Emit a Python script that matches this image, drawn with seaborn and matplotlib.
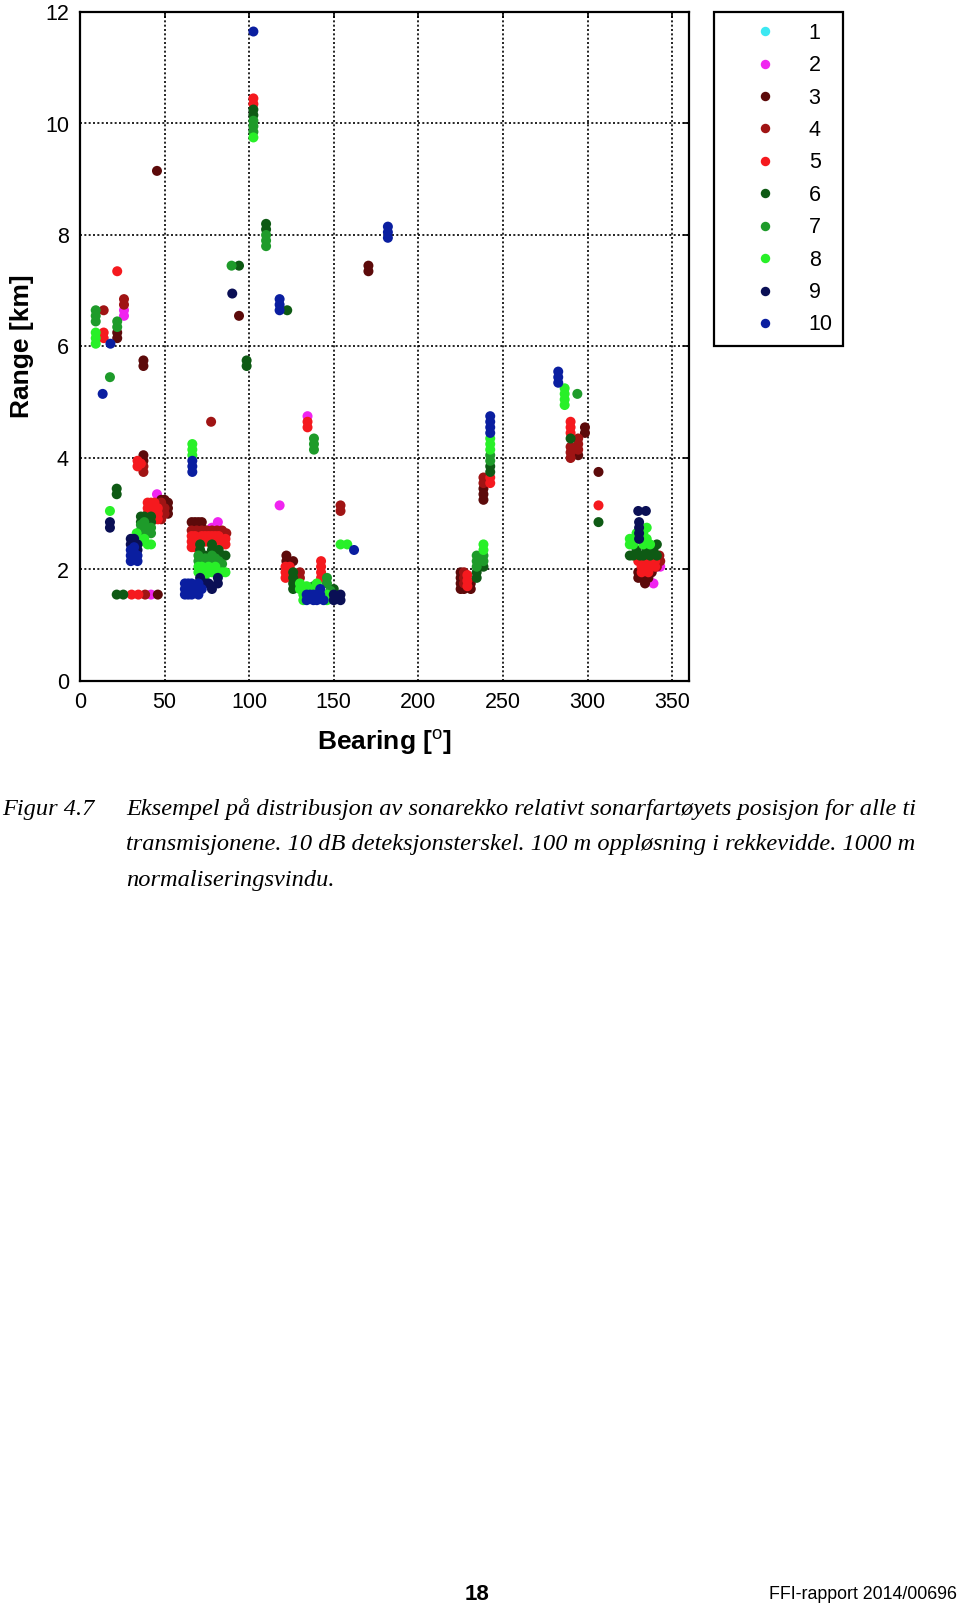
import matplotlib
matplotlib.use("Agg")
import matplotlib.pyplot as plt
from matplotlib.lines import Line2D
import seaborn as sns
import pandas as pd

# ---------------- data (bearing [deg], range [km]) per transmission ----------------
g1 = []
g2 = [(26, 6.65), (26, 6.55), (45.5, 3.35), (42, 1.55), (78, 2.75), (81.5, 2.85),
      (134.5, 4.75), (118, 3.15), (343, 2.05), (339, 1.75)]
g3 = [(22, 6.25), (22, 6.15), (37.5, 5.75), (37.5, 5.65), (94, 6.55), (170.5, 7.45),
      (170.5, 7.35), (45.5, 9.15), (37.5, 4.05), (37.5, 3.95), (46, 1.55),
      (48, 3.25), (50, 3.25), (50, 3.2), (52, 3.2), (52, 3.1), (52, 3.0),
      (66, 2.85), (68, 2.85), (70, 2.85), (72, 2.85), (68, 2.75), (72, 2.75),
      (122, 2.25), (122, 2.15), (126, 2.15),
      (238.5, 3.45), (238.5, 3.35), (238.5, 3.25), (225, 1.95), (225, 1.85), (225, 1.75),
      (225, 1.65), (231, 1.75), (231, 1.65), (227, 1.65),
      (298.5, 4.55), (298.5, 4.45), (294.5, 4.05), (306.5, 3.75),
      (330, 1.95), (332, 1.85), (334, 1.95), (336, 1.85), (334, 1.75), (338, 1.95), (330, 1.85)]
g4 = [(26, 6.85), (26, 6.75), (14, 6.65), (77.5, 4.65), (37.5, 3.85), (37.5, 3.75),
      (48, 3.2), (48, 3.1), (48, 3.0), (48, 2.9), (50, 3.1), (50, 3.0), (38.5, 1.55),
      (66, 2.7), (69, 2.7), (72, 2.7), (75, 2.7), (78, 2.7), (81, 2.7), (84, 2.7), (86.5, 2.65),
      (130, 1.95), (130, 1.85), (154, 3.15), (154, 3.05),
      (238.5, 3.65), (238.5, 3.55), (227, 1.95), (227, 1.85), (227, 1.75),
      (290, 4.2), (290, 4.1), (290, 4.0), (294.5, 4.35), (294.5, 4.25), (294.5, 4.15),
      (342.5, 2.25), (343, 2.15), (341, 2.05)]
g5 = [(22, 7.35), (14, 6.25), (14, 6.15), (102.5, 10.45), (102.5, 10.35),
      (134.5, 4.65), (134.5, 4.55), (34, 3.95), (34, 3.85), (36, 3.9),
      (30.5, 1.55), (34.5, 1.55),
      (40, 3.2), (40, 3.1), (40, 3.0), (42, 3.2), (42, 3.1), (42, 3.0), (42, 2.9),
      (44, 3.2), (44, 3.1), (44, 3.0), (44, 2.9), (46, 3.1), (46, 3.0), (46, 2.9),
      (66, 2.6), (66, 2.5), (66, 2.4), (68, 2.6), (68, 2.5), (68, 2.4), (72, 2.6), (72, 2.5),
      (74, 2.6), (74, 2.5), (76, 2.6), (76, 2.5), (78, 2.6), (78, 2.5), (80, 2.6), (80, 2.5),
      (80, 2.4), (82, 2.6), (82, 2.5), (84, 2.5), (86, 2.55), (86, 2.45),
      (121.5, 2.05), (121.5, 1.95), (121.5, 1.85), (124, 2.05), (124, 1.95),
      (142.5, 2.15), (142.5, 2.05), (142.5, 1.95), (142.5, 1.85),
      (229, 1.9), (229, 1.8), (229, 1.7), (242.5, 3.65), (242.5, 3.55),
      (290, 4.65), (290, 4.55), (290, 4.45), (306.5, 3.15),
      (330, 2.15), (332, 2.05), (334, 2.15), (336, 2.05), (338, 2.15), (340, 2.05),
      (332, 1.95), (336, 1.95), (334, 2.25), (338, 2.25), (340, 2.15)]
g6 = [(94, 7.45), (98.5, 5.75), (98.5, 5.65), (102.5, 10.25), (102.5, 10.15),
      (110, 8.2), (110, 8.1), (122.5, 6.65), (21.7, 3.45), (21.7, 3.35),
      (21.7, 1.55), (25.6, 1.55),
      (36, 2.95), (36, 2.85), (38, 2.95), (42, 2.95), (42, 2.85),
      (71, 2.45), (71, 2.35), (78, 2.45), (78, 2.35), (74, 2.25), (80, 2.3), (82, 2.35),
      (84, 2.25), (86, 2.25),
      (126, 1.95), (126, 1.85), (126, 1.75), (126, 1.65), (150, 1.65),
      (234.5, 1.95), (234.5, 1.85), (238.5, 2.05), (242.5, 3.85), (242.5, 3.75),
      (290, 4.35), (306.5, 2.85),
      (325, 2.25), (327, 2.25), (329, 2.35), (331, 2.25), (333, 2.25), (335, 2.35),
      (337, 2.25), (339, 2.35), (341, 2.45), (341, 2.25)]
g7 = [(9.3, 6.65), (9.3, 6.55), (9.3, 6.45), (22, 6.45), (22, 6.35), (17.7, 5.45),
      (89.6, 7.45), (102.5, 10.05), (102.5, 9.95), (102.5, 9.85),
      (110, 8.0), (110, 7.9), (110, 7.8), (138.3, 4.35), (138.3, 4.25), (138.3, 4.15),
      (36, 2.8), (36, 2.7), (38, 2.85), (38, 2.75), (38, 2.65), (42, 2.75), (42, 2.65),
      (70, 2.25), (70, 2.15), (74, 2.2), (76, 2.15), (78, 2.25), (80, 2.2), (82, 2.15), (84, 2.1),
      (138, 1.7), (146, 1.85), (146, 1.75), (148, 1.62),
      (234.5, 2.25), (234.5, 2.15), (234.5, 2.05), (238.5, 2.25), (238.5, 2.15),
      (242.5, 4.05), (242.5, 3.95), (294, 5.15)]
g8 = [(9.3, 6.25), (9.3, 6.15), (9.3, 6.05), (102.5, 9.75), (17.7, 3.05),
      (66.4, 4.25), (66.4, 4.15), (66.4, 4.05), (154, 2.45), (158, 2.45),
      (33.5, 2.65), (34, 2.55), (36, 2.5), (38, 2.55), (40, 2.45), (42, 2.45),
      (70, 2.05), (70, 1.95), (72, 2.05), (72, 1.95), (74, 1.95), (74, 1.9), (76, 2.05),
      (76, 1.95), (78, 1.95), (80, 2.05), (80, 1.95), (82, 1.95), (84, 1.95), (86, 1.95), (72, 1.85),
      (130, 1.75), (130, 1.65), (132, 1.55), (132, 1.45), (134, 1.7), (136, 1.65),
      (140, 1.75), (140, 1.65), (146, 1.55), (146, 1.45),
      (238.5, 2.45), (238.5, 2.35), (242.5, 4.35), (242.5, 4.25), (242.5, 4.15),
      (286.5, 5.25), (286.5, 5.15), (286.5, 5.05), (286.5, 4.95),
      (325, 2.55), (325, 2.45), (327, 2.55), (329, 2.65), (331, 2.55), (333, 2.65),
      (335, 2.75), (335, 2.55), (337, 2.45), (327, 2.45), (333, 2.45)]
g9 = [(90, 6.95), (17.7, 2.85), (17.7, 2.75),
      (30, 2.55), (30, 2.45), (32, 2.55), (32, 2.45), (34, 2.45), (34, 2.35),
      (71, 1.85), (81.5, 1.85), (81.5, 1.75), (78, 1.65), (76, 1.75), (74, 1.75),
      (150, 1.55), (150, 1.45), (154, 1.55), (154, 1.45),
      (330, 3.05), (334.5, 3.05), (330.5, 2.85), (330.5, 2.75), (330.5, 2.65), (330.5, 2.55)]
g10 = [(102.5, 11.65), (118, 6.85), (118, 6.75), (118, 6.65), (182, 8.15), (182, 8.05),
       (182, 7.95), (18, 6.05), (13.4, 5.15), (66.4, 3.95), (66.4, 3.85), (66.4, 3.75),
       (162, 2.35),
       (30, 2.35), (30, 2.25), (30, 2.15), (32, 2.4), (32, 2.3), (32, 2.2), (34, 2.25), (34, 2.15),
       (62, 1.75), (62, 1.65), (62, 1.55), (64, 1.75), (64, 1.65), (64, 1.55), (66, 1.75),
       (66, 1.65), (66, 1.55), (68, 1.7), (68, 1.6), (70, 1.75), (70, 1.65), (70, 1.55), (72, 1.65),
       (134, 1.55), (134, 1.45), (136, 1.55), (138, 1.55), (138, 1.45), (140, 1.55),
       (140, 1.45), (142, 1.65), (142, 1.55), (144, 1.45),
       (242.5, 4.75), (242.5, 4.65), (242.5, 4.55), (242.5, 4.45),
       (282.7, 5.55), (282.7, 5.45), (282.7, 5.35)]

groups = [g1, g2, g3, g4, g5, g6, g7, g8, g9, g10]
labels = [str(i) for i in range(1, 11)]
colors = ['#3CE8F2', '#F024F0', '#5C0A0A', '#A01414', '#F5191E',
          '#0E5A14', '#1E9B2A', '#28F028', '#0A0F55', '#0A1EA0']
x_ticks = [0, 50, 100, 150, 200, 250, 300, 350]
y_ticks = [0, 2, 4, 6, 8, 10, 12]

caption_lines = [
    "Eksempel på distribusjon av sonarekko relativt sonarfartøyets posisjon for alle ti",
    "transmisjonene. 10 dB deteksjonsterskel. 100 m oppløsning i rekkevidde. 1000 m",
    "normaliseringsvindu.",
]

rows = []
for lab, g in zip(labels, groups):
    for b, r in g:
        rows.append({"Bearing": b, "Range": r, "Transmission": lab})
df = pd.DataFrame(rows, columns=["Bearing", "Range", "Transmission"])

# ---------------- style ----------------
sns.set_style("white")
plt.rcParams['font.family'] = ['Liberation Sans', 'DejaVu Sans']
plt.rcParams['mathtext.fontset'] = 'custom'
plt.rcParams['mathtext.rm'] = 'Liberation Sans'
plt.rcParams['mathtext.bf'] = 'Liberation Sans:bold'
plt.rcParams['text.color'] = 'black'
plt.rcParams['axes.labelcolor'] = 'black'
plt.rcParams['xtick.color'] = 'black'
plt.rcParams['ytick.color'] = 'black'

W, H = 960, 1610
fig = plt.figure(figsize=(W / 100, H / 100), dpi=100)
fig.patch.set_facecolor('white')

L, R, T, B = 80, 689, 12, 681
ax = fig.add_axes([L / W, 1 - B / H, (R - L) / W, (B - T) / H])

palette = dict(zip(labels, colors))
sns.scatterplot(data=df, x="Bearing", y="Range", hue="Transmission",
                hue_order=labels, palette=palette, s=52, linewidth=0,
                alpha=1, legend=False, ax=ax, zorder=3)

ax.set_xlim(0, 360)
ax.set_ylim(0, 12)
ax.set_xticks(x_ticks)
ax.set_yticks(y_ticks)
ax.grid(True, color='black', linestyle=(0, (1.2, 1.4)), linewidth=1.2, zorder=1)
ax.set_axisbelow(True)
for sp in ax.spines.values():
    sp.set_visible(True)
    sp.set_color('black')
    sp.set_linewidth(1.6)
ax.tick_params(direction='in', length=4, width=1.2, top=True, right=True,
               labelsize=15.5, pad=8, colors='black', labelcolor='black')
ax.set_xlabel(r'Bearing [$^{\mathrm{o}}$]', fontsize=19, fontweight='bold',
              labelpad=10, color='black')
ax.set_ylabel('Range [km]', fontsize=19, fontweight='bold', labelpad=8, color='black')

# legend
handles = [Line2D([0], [0], marker='o', linestyle='none', markersize=6.8,
                  markerfacecolor=c, markeredgewidth=0) for c in colors]
leg = fig.legend(handles, labels, loc='upper left',
                 bbox_to_anchor=(714 / W, 1 - 12 / H), borderaxespad=0,
                 fontsize=15.5, frameon=True, fancybox=False, shadow=False,
                 framealpha=1, edgecolor='black', handlelength=3.7,
                 handletextpad=0.2, labelspacing=0.53, borderpad=0.5)
leg.get_frame().set_linewidth(1.6)
for t in leg.get_texts():
    t.set_color('black')

# caption
renderer = fig.canvas.get_renderer()
cap_font = ['Liberation Serif', 'DejaVu Serif']
t0 = fig.text(2 / W, 1 - 809 / H, "Figur 4.7", fontsize=17, style='italic',
              family=cap_font, va='center', ha='left')
cap_texts = []
for i, line in enumerate(caption_lines):
    y = [809, 844, 880][i]
    cap_texts.append(fig.text(126 / W, 1 - y / H, line, fontsize=17, style='italic',
                              family=cap_font, va='center', ha='left'))
# fit font size to the caption width of the reference
w = cap_texts[0].get_window_extent(renderer).width
fs = 17 * 791 / w
for t in cap_texts + [t0]:
    t.set_fontsize(fs)

fig.text(477 / W, 1 - 1594 / H, "18", fontsize=16, fontweight='bold',
         ha='center', va='center')
fig.text(957 / W, 1 - 1594 / H, "FFI-rapport 2014/00696", fontsize=12.8,
         ha='right', va='center')

fig.savefig("out.png", dpi=100, facecolor='white')
